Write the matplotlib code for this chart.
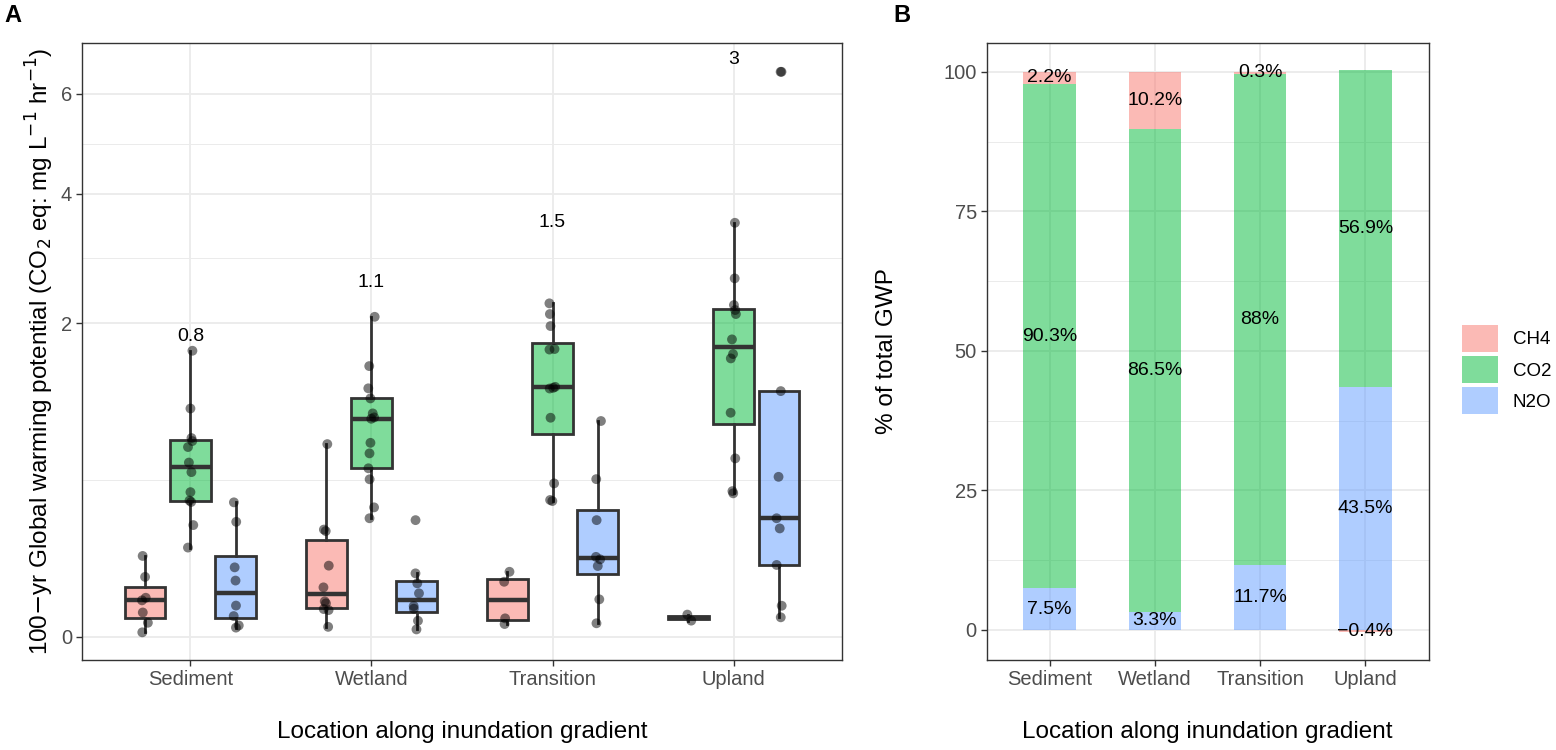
import numpy as np
import matplotlib
matplotlib.use("Agg")
import matplotlib.pyplot as plt
from matplotlib import cbook
from matplotlib.colors import to_rgba
from matplotlib.patches import Patch
from matplotlib.ticker import FixedLocator

plt.rcParams['font.family'] = ['Liberation Sans', 'DejaVu Sans']

# ---------------- data ----------------
locations = ["Sediment", "Wetland", "Transition", "Upland"]
gases = ["CH4", "CO2", "N2O"]

# Panel A: 100-yr GWP (CO2 eq: mg L-1 hr-1), individual samples
sediment_ch4 = [0.133, 0.073, 0.031, 0.027, 0.012, 0.004, 0.0004]
sediment_co2 = [0.162, 0.254, 0.370, 0.378, 0.426, 0.552, 0.618, 0.733, 0.780, 0.804, 1.061, 1.666]
sediment_n2o = [0.0017, 0.0026, 0.0087, 0.0198, 0.0643, 0.0981, 0.269, 0.368]

wetland_ch4 = [0.0020, 0.0145, 0.0156, 0.0227, 0.0255, 0.0497, 0.103, 0.2275, 0.234, 0.756]
wetland_co2 = [0.286, 0.341, 0.505, 0.578, 0.685, 0.766, 0.968, 0.980, 1.016, 1.157, 1.257, 1.492, 2.085]
wetland_n2o = [0.0011, 0.0052, 0.0160, 0.0192, 0.0384, 0.0581, 0.0819, 0.277]

transition_ch4 = [0.0033, 0.0069, 0.0616, 0.086]
transition_co2 = [0.375, 0.381, 0.479, 0.977, 1.255, 1.262, 1.272, 1.680, 1.686, 1.966, 2.121, 2.264]
transition_n2o = [0.0037, 0.0285, 0.102, 0.122, 0.130, 0.277, 0.506, 0.948]

upland_ch4 = [0.0053, 0.0100]
upland_co2 = [0.419, 0.432, 0.648, 1.022, 1.578, 1.628, 1.801, 2.121, 2.174, 2.241, 2.616, 3.490]
upland_n2o = [0.0077, 0.0196, 0.105, 0.239, 0.286, 0.521, 1.229, 6.50, 6.50]

# total GWP annotations
gwp_labels = ["0.8", "1.1", "1.5", "3"]
gwp_label_y = [1.83, 2.55, 3.49, 6.79]

# Panel B: % of total GWP
pct_ch4 = [2.2, 10.2, 0.3, -0.4]
pct_co2 = [90.3, 86.5, 88.0, 56.9]
pct_n2o = [7.5, 3.3, 11.7, 43.5]

# ---------------- style ----------------
colors = {"CH4": "#F8766D", "CO2": "#00BA38", "N2O": "#619CFF"}
EDGE = "#333333"
GRID = "#EBEBEB"
TICKC = "#4D4D4D"
TICK_FS = 14.5
LAB_FS = 17.5

groups = {
    ("Sediment", "CH4"): sediment_ch4, ("Sediment", "CO2"): sediment_co2, ("Sediment", "N2O"): sediment_n2o,
    ("Wetland", "CH4"): wetland_ch4, ("Wetland", "CO2"): wetland_co2, ("Wetland", "N2O"): wetland_n2o,
    ("Transition", "CH4"): transition_ch4, ("Transition", "CO2"): transition_co2, ("Transition", "N2O"): transition_n2o,
    ("Upland", "CH4"): upland_ch4, ("Upland", "CO2"): upland_co2, ("Upland", "N2O"): upland_n2o,
}

W, H = 1556, 750
fig = plt.figure(figsize=(W / 100, H / 100), dpi=100)

def px_axes(x0, x1, y0, y1):
    return fig.add_axes([x0 / W, 1 - y1 / H, (x1 - x0) / W, (y1 - y0) / H])

axA = px_axes(81.7, 842.3, 43, 660)
axB = px_axes(986.5, 1428.6, 43, 660)

def style_axes(ax):
    for sp in ax.spines.values():
        sp.set_color(EDGE)
        sp.set_linewidth(1.0)
    ax.tick_params(axis='both', which='major', length=4, width=1.0, color=EDGE,
                   labelcolor=TICKC, labelsize=TICK_FS, pad=3)
    ax.tick_params(axis='both', which='minor', length=0)
    ax.set_axisbelow(True)
    ax.grid(which='major', color=GRID, linewidth=1.3, zorder=0)
    ax.grid(which='minor', axis='y', color=GRID, linewidth=0.7, zorder=0)

# ---------------- Panel A ----------------
def fwd(v):
    v = np.asarray(v, dtype=float)
    return np.sign(v) * np.sqrt(np.abs(v))

def inv(v):
    v = np.asarray(v, dtype=float)
    return np.sign(v) * v ** 2

axA.set_yscale('function', functions=(fwd, inv))
rng = np.random.default_rng(11)
offsets = {"CH4": -0.25, "CO2": 0.0, "N2O": 0.25}

for i, loc in enumerate(locations):
    for g in gases:
        vals = np.asarray(groups[(loc, g)], dtype=float)
        pos = i + offsets[g]
        # statistics computed on the sqrt-transformed scale, as ggplot does
        st = cbook.boxplot_stats(np.sqrt(vals), whis=1.5)[0]
        for k in ('med', 'q1', 'q3', 'whislo', 'whishi', 'mean'):
            st[k] = float(st[k]) ** 2
        st['fliers'] = np.asarray(st['fliers']) ** 2
        axA.bxp([st], positions=[pos], widths=0.225, patch_artist=True,
                showcaps=False, showmeans=False, showfliers=False, manage_ticks=False,
                boxprops=dict(facecolor=to_rgba(colors[g], 0.5), edgecolor=EDGE, linewidth=2.0),
                medianprops=dict(color=EDGE, linewidth=3.2, solid_capstyle='butt'),
                whiskerprops=dict(color=EDGE, linewidth=2.0),
                zorder=2)
        jit = rng.uniform(-0.018, 0.018, size=len(vals))
        axA.scatter(pos + jit, vals, s=50, color='black', alpha=0.5, edgecolors='none', zorder=3)

for i, (lab, yv) in enumerate(zip(gwp_labels, gwp_label_y)):
    axA.text(i, yv, lab, ha='center', va='center', fontsize=14, color='black')

major_y = [0, 2, 4, 6]
axA.yaxis.set_major_locator(FixedLocator(major_y))
axA.yaxis.set_minor_locator(FixedLocator(list(inv((fwd(major_y[:-1]) + fwd(major_y[1:])) / 2))))
axA.set_yticklabels([str(v) for v in major_y])
axA.set_ylim(-0.011, 7.18)
axA.set_xlim(-0.6, 3.6)
axA.set_xticks(range(len(locations)))
axA.set_xticklabels(locations)
style_axes(axA)
axA.set_xlabel("Location along inundation gradient", fontsize=LAB_FS)
axA.xaxis.set_label_coords(0.5, (660 - 732) / 617)
axA.xaxis.label.set_va('center')
axA.set_ylabel(r"100$-$yr Global warming potential (CO$_2$ eq: mg L$^{-1}$ hr$^{-1}$)", fontsize=LAB_FS)
axA.yaxis.set_label_coords((40 - 81.7) / 760.6, 0.5)
axA.yaxis.label.set_va('center')

# ---------------- Panel B ----------------
x = np.arange(len(locations))
pos_cum = np.zeros(len(locations))
neg_cum = np.zeros(len(locations))
stack_order = [("N2O", pct_n2o), ("CO2", pct_co2), ("CH4", pct_ch4)]
for g, vals in stack_order:
    vals = np.asarray(vals, dtype=float)
    bottoms = np.where(vals >= 0, pos_cum, neg_cum)
    axB.bar(x, vals, bottom=bottoms, width=0.5, color=colors[g], alpha=0.5,
            linewidth=0, zorder=2)
    for xi, b, v in zip(x, bottoms, vals):
        axB.text(xi, b + v / 2, f"{v:g}%".replace("-", "\u2212"), ha='center', va='center',
                 fontsize=14, color='black', zorder=4)
    pos_cum = pos_cum + np.where(vals >= 0, vals, 0)
    neg_cum = neg_cum + np.where(vals < 0, vals, 0)

axB.set_xlim(-0.6, 3.6)
axB.set_ylim(-5.38, 105.17)
axB.set_yticks([0, 25, 50, 75, 100])
axB.yaxis.set_minor_locator(FixedLocator([12.5, 37.5, 62.5, 87.5]))
axB.set_xticks(x)
axB.set_xticklabels(locations)
style_axes(axB)
axB.set_xlabel("Location along inundation gradient", fontsize=LAB_FS)
axB.xaxis.set_label_coords(0.5, (660 - 732) / 617)
axB.xaxis.label.set_va('center')
axB.set_ylabel("% of total GWP", fontsize=LAB_FS)
axB.yaxis.set_label_coords((887 - 986.5) / 442.1, 0.5)
axB.yaxis.label.set_va('center')

# legend
LEG_FS = 13.5
handles = [Patch(facecolor=to_rgba(colors[g], 0.5), edgecolor='none') for g in gases]
fig.legend(handles, gases, loc='center left', bbox_to_anchor=(1462 / W, 1 - 369.5 / H),
           frameon=False, fontsize=LEG_FS, handlelength=1.92, handleheight=1.87,
           labelspacing=0.2, handletextpad=0.78, borderpad=0, borderaxespad=0)

# panel tags
fig.text(4 / W, 1 - 15 / H, "A", fontsize=17, fontweight='bold', ha='left', va='center')
fig.text(893 / W, 1 - 15 / H, "B", fontsize=17, fontweight='bold', ha='left', va='center')

fig.savefig("out.png", dpi=100, facecolor='white')
